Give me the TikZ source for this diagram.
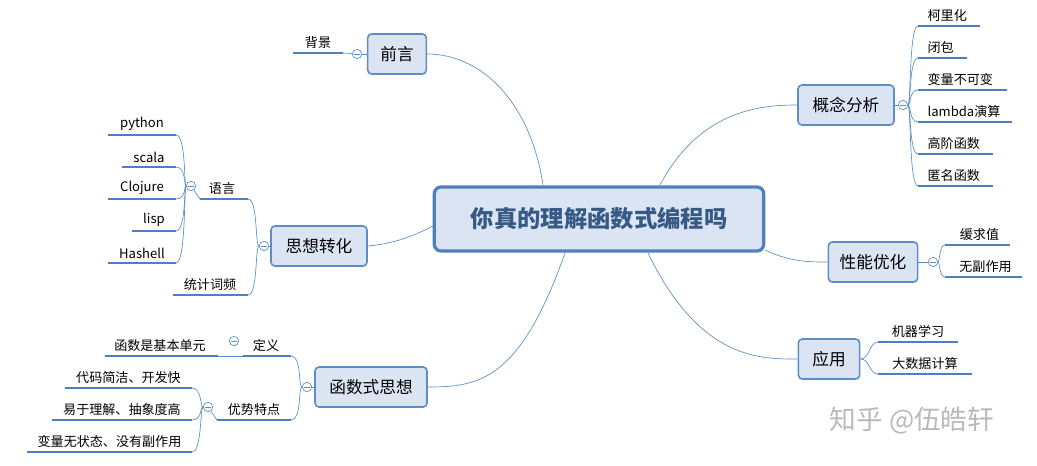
\documentclass[tikz,border=0pt]{standalone}
\usepackage{fontspec}
\setmainfont{Noto Sans CJK SC}
\begin{document}
\begin{tikzpicture}[x=0.75pt,y=-0.75pt,
  topic/.style={draw=lineblue,fill=boxfill,line width=1.2pt,rounded corners=3pt,font=\fontsize{12.5}{14}\selectfont,minimum height=30pt,inner xsep=6pt},
  leaf/.style={font=\fontsize{9.8}{11}\selectfont,anchor=south,inner sep=1pt},
  ul/.style={draw=ulblue,line width=1.6pt},
  br/.style={draw=lineblue,line width=0.5pt},
  col/.style={circle,draw=lineblue,fill=white,line width=0.5pt,minimum size=7pt,inner sep=0pt,path picture={\draw[lineblue,line width=0.5pt] ([xshift=-2pt]path picture bounding box.center)--([xshift=2pt]path picture bounding box.center);}}]
\definecolor{lineblue}{HTML}{5B8EC6}
\definecolor{ulblue}{HTML}{4F7FBF}
\definecolor{boxfill}{HTML}{DAE4F3}
\useasboundingbox (0,0) rectangle (1037,465);
% center
\node[draw=ulblue,fill=boxfill,line width=2.4pt,rounded corners=5pt,minimum width=247pt,minimum height=48pt,font=\fontsize{17.5}{19}\selectfont\bfseries,text=ulblue!70!black] (c) at (599,219) {你真的理解函数式编程吗};
% topics
\node[topic,minimum width=44pt] (qy) at (397,54) {前言};
\node[topic,minimum width=72pt] (sx) at (319,246) {思想转化};
\node[topic,minimum width=84pt] (hs) at (371,387) {函数式思想};
\node[topic,minimum width=72pt] (gn) at (846,105) {概念分析};
\node[topic,minimum width=67pt] (xn) at (873,262) {性能优化};
\node[topic,minimum width=46pt] (yy) at (829,359) {应用};
% center connectors
\draw[br] (543,185) .. controls (530,100) and (480,54) .. (qy.east);
\draw[br] (433,226) .. controls (410,238) and (390,244) .. (sx.east);
\draw[br] (565,253) .. controls (520,380) and (480,387) .. (hs.east);
\draw[br] (660,185) .. controls (700,110) and (760,105) .. (gn.west);
\draw[br] (765,250) .. controls (790,262) and (810,262) .. (xn.west);
\draw[br] (648,253) .. controls (700,360) and (760,359) .. (yy.west);
% 前言
\node[col] (cq) at (357,54) {};
\draw[br] (qy.west)--(cq);
\coordinate (bj1) at (293,53); \coordinate (bj2) at (343,53);
\draw[ul] (bj1)--(bj2);
\node[leaf] at (318,50) {背景};
\draw[br] (cq)--(bj2);
% 思想转化
\node[col] (cs) at (264,246) {};
\draw[br] (sx.west)--(cs);
\coordinate (yy1) at (200,199); \coordinate (yy2) at (248,199);
\coordinate (tj1) at (173,295); \coordinate (tj2) at (248,295);
\draw[ul] (yy1)--(yy2); \draw[ul] (tj1)--(tj2);
\node[leaf] at (222,196) {语言};
\node[leaf] at (210,292) {统计词频};
\draw[br] (cs) .. controls (255,246) and (258,199) .. (yy2);
\draw[br] (cs) .. controls (255,246) and (258,295) .. (tj2);
\node[col] (cl) at (191,186) {};
\draw[br] (yy1)--(cl);
\foreach \n/\t/\a/\yv in {p/python/108/135,s/scala/122/167,cj/Clojure/108/199,l/lisp/132/231,h/Hashell/108/263}{
  \coordinate (\n1) at (\a,\yv); \coordinate (\n2) at (176,\yv);
  \draw[ul] (\n1)--(\n2);
  \node[leaf] at ({(\a+176)/2},\yv-3) {\t};
  \draw[br] (cl) .. controls (184,186) and (186,\yv) .. (\n2);
}
% 函数式思想
\node[col] (ch) at (307,387) {};
\draw[br] (hs.west)--(ch);
\coordinate (dy1) at (243,356); \coordinate (dy2) at (291,356);
\coordinate (ys1) at (217,420); \coordinate (ys2) at (291,420);
\draw[ul] (dy1)--(dy2); \draw[ul] (ys1)--(ys2);
\node[leaf] at (266,353) {定义};
\node[leaf] at (254,417) {优势特点};
\draw[br] (ch) .. controls (298,387) and (302,356) .. (dy2);
\draw[br] (ch) .. controls (298,387) and (302,420) .. (ys2);
\node[col] (cd) at (234,341) {};
\coordinate (f1) at (105,356); \coordinate (f2) at (218,356);
\draw[ul] (f1)--(f2); \draw[br] (f2)--(dy1);
\node[leaf] at (160,353) {函数是基本单元};
\node[col] (cy) at (208,407) {};
\draw[br] (ys1)--(cy);
\foreach \n/\t/\a/\yv in {d/代码简洁、开发快/65/388,e/易于理解、抽象度高/52/420,g/变量无状态、没有副作用/27/452}{
  \coordinate (\n1) at (\a,\yv); \coordinate (\n2) at (192,\yv);
  \draw[ul] (\n1)--(\n2);
  \node[leaf] at ({(\a+192)/2},\yv-3) {\t};
  \draw[br] (cy) .. controls (200,407) and (202,\yv) .. (\n2);
}
% 概念分析
\node[col] (cg) at (903,105) {};
\draw[br] (gn.east)--(cg);
\foreach \n/\t/\b/\yv in {k1/柯里化/980/26,k2/闭包/967/58,k3/变量不可变/1007/90,k4/lambda演算/1012/122,k5/高阶函数/993/154,k6/匿名函数/993/186}{
  \coordinate (\n a) at (918,\yv); \coordinate (\n b) at (\b,\yv);
  \draw[ul] (\n a)--(\n b);
  \node[leaf,anchor=south west] at (926,\yv-3) {\t};
  \draw[br] (cg) .. controls (911,105) and (909,\yv) .. (\n a);
}
% 性能优化
\node[col] (cx) at (933,262) {};
\draw[br] (xn.east)--(cx);
\foreach \n/\t/\b/\yv in {x1/缓求值/1010/245,x2/无副作用/1022/277}{
  \coordinate (\n a) at (945,\yv); \coordinate (\n b) at (\b,\yv);
  \draw[ul] (\n a)--(\n b);
  \node[leaf] at ({(945+\b)/2+2},\yv-3) {\t};
  \draw[br] (cx) .. controls (940,262) and (939,\yv) .. (\n a);
}
% 应用
\foreach \n/\t/\b/\yv in {y1/机器学习/958/342,y2/大数据计算/972/374}{
  \coordinate (\n a) at (878,\yv); \coordinate (\n b) at (\b,\yv);
  \draw[ul] (\n a)--(\n b);
  \node[leaf] at ({(878+\b)/2},\yv-3) {\t};
  \draw[br] (yy.east) .. controls (870,359) and (869,\yv) .. (\n a);
}
% watermark
\node[text=gray!55,font=\fontsize{20}{22}\selectfont] (wm) at (912,421) {知乎 @伍皓轩};
\end{tikzpicture}
\end{document}
